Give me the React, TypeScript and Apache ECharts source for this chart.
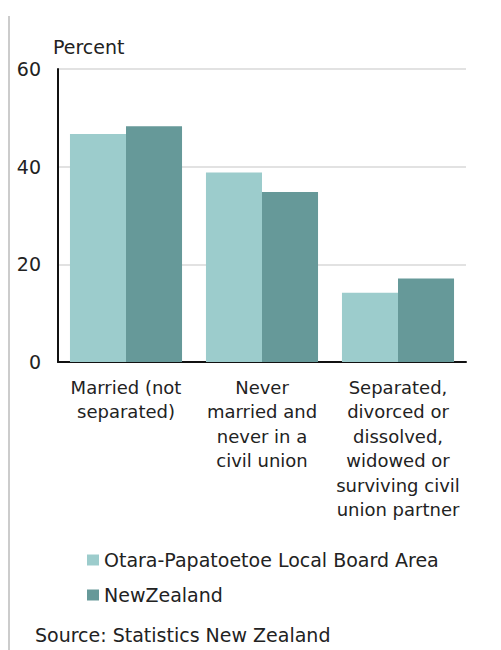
import React, { useEffect, useRef } from "react";
import * as echarts from "echarts";

const categories = [
  "Married (not\nseparated)",
  "Never\nmarried and\nnever in a\ncivil union",
  "Separated,\ndivorced or\ndissolved,\nwidowed or\nsurviving civil\nunion partner",
];
const seriesNames = ["Otara-Papatoetoe Local Board Area", "NewZealand"];
const otaraValues = [46.7, 38.8, 14.2];
const nzValues = [48.3, 34.8, 17.1];
const yTicks = { min: 0, max: 60, interval: 20 };

const textColor = "#222";
const fontFamily = "DejaVu Sans, Liberation Sans, Arial, sans-serif";

export default function App() {
  const ref = useRef<HTMLDivElement>(null);
  useEffect(() => {
    if (!ref.current) return;
    const chart = echarts.init(ref.current, undefined, { renderer: "svg" });
    chart.setOption({
      animation: false,
      backgroundColor: "#fff",
      textStyle: { fontFamily, color: textColor },
      grid: { left: 58, right: 35, top: 69, bottom: 288, containLabel: false },
      xAxis: {
        type: "category",
        data: categories,
        axisLine: { show: true, lineStyle: { color: "#111", width: 2 } },
        axisTick: { show: false },
        axisLabel: {
          interval: 0,
          margin: 13,
          fontSize: 18,
          lineHeight: 24.5,
          color: textColor,
          fontFamily,
          align: "center",
        },
      },
      yAxis: {
        type: "value",
        min: yTicks.min,
        max: yTicks.max,
        interval: yTicks.interval,
        axisLine: { show: true, lineStyle: { color: "#111", width: 2 } },
        axisTick: { show: false },
        axisLabel: { margin: 17, fontSize: 19, color: textColor, fontFamily },
        splitLine: { show: true, lineStyle: { color: "#d9d9d9", width: 1.5 } },
      },
      legend: {
        orient: "vertical",
        left: 87,
        top: 550,
        padding: 0,
        itemWidth: 12,
        itemHeight: 11,
        itemGap: 15,
        icon: "rect",
        textStyle: { fontSize: 19, lineHeight: 20, color: textColor, fontFamily },
        data: seriesNames,
      },
      graphic: [
        {
          type: "line",
          shape: { x1: 9, y1: 16, x2: 9, y2: 650 },
          style: { stroke: "#cccccc", lineWidth: 2 },
        },
        {
          type: "text",
          left: 53,
          top: 37,
          style: { text: "Percent", fontSize: 19, fill: textColor, fontFamily },
        },
        {
          type: "text",
          left: 35,
          top: 625,
          style: { text: "Source: Statistics New Zealand", fontSize: 19, fill: textColor, fontFamily },
        },
      ],
      series: [
        {
          name: seriesNames[0],
          type: "bar",
          data: otaraValues,
          barGap: "0%",
          barCategoryGap: "17.6%",
          itemStyle: { color: "#9ccccc" },
        },
        {
          name: seriesNames[1],
          type: "bar",
          data: nzValues,
          barGap: "0%",
          barCategoryGap: "17.6%",
          itemStyle: { color: "#669999" },
        },
      ],
    });
    return () => chart.dispose();
  }, []);
  return (
    <div
      ref={ref}
      style={{ position: "absolute", left: 0, top: 0, width: 501, height: 650 }}
    />
  );
}
